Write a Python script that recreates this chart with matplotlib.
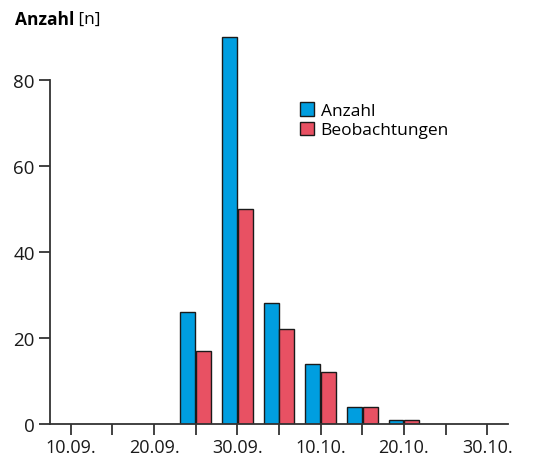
import numpy as np
import matplotlib
matplotlib.use('Agg')
import matplotlib.pyplot as plt
from matplotlib.patches import Patch

# days counted from 10.09.
days = [15, 20, 25, 30, 35, 40]
anzahl = [26, 90, 28, 14, 4, 1]
beobachtungen = [17, 50, 22, 12, 4, 1]
tick_days = [0, 10, 20, 30, 40, 50]
tick_labels = ['10.09.', '20.09.', '30.09.', '10.10.', '20.10.', '30.10.']
y_ticks = [0, 20, 40, 60, 80]

blue = '#009ee0'
red = '#e85163'

plt.rcParams['font.family'] = ['Open Sans', 'DejaVu Sans']

fig = plt.figure(figsize=(5.48, 4.56), dpi=100)
ax = fig.add_axes([50/548, 31/456, 458/548, 396/456])

x = np.array(days)
w = 1.8
ax.bar(x - w/2 - 0.05, anzahl, width=w, color=blue, edgecolor='#1a1a1a', linewidth=1.0)
ax.bar(x + w/2 + 0.05, beobachtungen, width=w, color=red, edgecolor='#1a1a1a', linewidth=1.0)

ax.set_xlim(-2.5, 52.5)
ax.set_ylim(0, 92)

for s in ['top', 'right']:
    ax.spines[s].set_visible(False)
for s in ['left', 'bottom']:
    ax.spines[s].set_color('#333333')
    ax.spines[s].set_linewidth(1.3)
ax.spines['left'].set_bounds(0, 80)

ax.set_xticks(tick_days)
ax.set_xticklabels(tick_labels)
ax.set_xticks(np.arange(5, 50, 10), minor=True)
ax.tick_params(axis='x', which='both', direction='out', length=8, width=1.3, color='#333333', labelsize=13, pad=2)
ax.set_yticks(y_ticks)
ax.set_yticklabels([str(v) for v in y_ticks])
ax.tick_params(axis='y', direction='out', length=8, width=1.3, color='#333333', labelsize=13.5, pad=3)
for lab in ax.get_xticklabels() + ax.get_yticklabels():
    lab.set_color('#1a1a1a')

# axis title: bold "Anzahl" followed by regular "[n]"
t = fig.text(15/548, 1 - 20/456, 'Anzahl', fontsize=12.5, fontweight='bold', va='center', ha='left')
ax.annotate(' [n]', xy=(1, 0.5), xycoords=t, fontsize=12.5, va='center', ha='left',
            annotation_clip=False)

handles = [Patch(facecolor=blue, edgecolor='#1a1a1a', label='Anzahl'),
           Patch(facecolor=red, edgecolor='#1a1a1a', label='Beobachtungen')]
ax.legend(handles=handles, loc='upper left', bbox_to_anchor=(0.53, 0.83), frameon=False,
          fontsize=12.5, handlelength=0.8, handleheight=0.8, handletextpad=0.4,
          labelspacing=0.15, borderaxespad=0)

fig.savefig('out.png', dpi=100)
